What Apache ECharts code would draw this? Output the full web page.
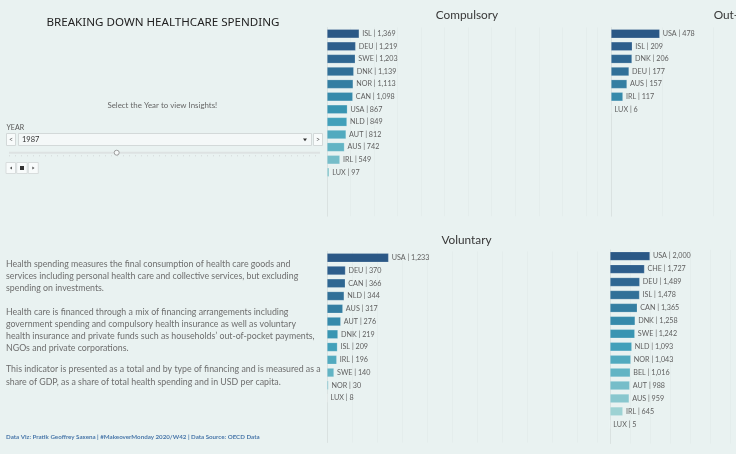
<!DOCTYPE html>
<html>
<head>
<meta charset="utf-8">
<script src="https://cdn.jsdelivr.net/npm/echarts@6/dist/echarts.min.js"></script>
<style>
html,body{margin:0;padding:0;background:#e9f2f1;}
#c{width:736px;height:454px;}
</style>
</head>
<body>
<div id="c"></div>
<script>
// ---- data ----
const compCats = ['ISL','DEU','SWE','DNK','NOR','CAN','USA','NLD','AUT','AUS','IRL','LUX'];
const compVals = [1369,1219,1203,1139,1113,1098,867,849,812,742,549,97];
const oopCats = ['USA','ISL','DNK','DEU','AUS','IRL','LUX'];
const oopVals = [478,209,206,177,157,117,6];
const volCats = ['USA','DEU','CAN','NLD','AUS','AUT','DNK','ISL','IRL','SWE','NOR','LUX'];
const volVals = [1233,370,366,344,317,276,219,209,196,140,30,8];
const totCats = ['USA','CHE','DEU','ISL','CAN','DNK','SWE','NLD','NOR','BEL','AUT','AUS','IRL','LUX'];
const totVals = [2000,1727,1489,1478,1365,1258,1242,1093,1043,1016,988,959,645,5];
const panelTitles = ['Compulsory','Out-of-Pocket','Voluntary'];
const selectedYear = '1987';

// ---- styles ----
const palette = ['#2b5886','#2d5e8c','#2f6792','#317098','#347ea2','#368aab','#3995b2',
                 '#42a0ba','#52aabf','#62b4c4','#76bdc9','#89c7ce','#9dd2d3','#aadad8'];
const FONT = 'Lato';
const chart = echarts.init(document.getElementById('c'));

// grid geometry: left, top, width, height, axis max, interval
const panels = [
  {cats: compCats, vals: compVals, left: 327, top: 27.4, width: 270, height: 189, max: 11475, interval: 1000},
  {cats: oopCats,  vals: oopVals,  left: 611, top: 27.4, width: 125, height: 189, max: 1225,  interval: 500},
  {cats: volCats,  vals: volVals,  left: 327, top: 251.4, width: 270, height: 191.3, max: 5400, interval: 500},
  {cats: totCats,  vals: totVals,  left: 610, top: 249.7, width: 126, height: 194, max: 6300, interval: 1000}
];

const grids = [], xAxes = [], yAxes = [], series = [];
panels.forEach((p, k) => {
  grids.push({left: p.left, top: p.top, width: p.width, height: p.height, containLabel: false});
  xAxes.push({
    type: 'value', gridIndex: k, min: 0, max: p.max, interval: p.interval,
    axisLabel: {show: false}, axisTick: {show: false}, axisLine: {show: false},
    splitLine: {show: true, lineStyle: {color: 'rgba(0,0,0,0.018)', width: 1}}
  });
  yAxes.push({
    type: 'category', gridIndex: k, data: p.cats, inverse: true, min: 0, max: 14,
    axisLabel: {show: false}, axisTick: {show: false},
    axisLine: {show: true, lineStyle: {color: 'rgba(0,0,0,0.045)', width: 1}},
    splitLine: {show: false}
  });
  series.push({
    type: 'bar', xAxisIndex: k, yAxisIndex: k, data: p.vals, barWidth: 9,
    itemStyle: {color: q => palette[q.dataIndex], borderColor: 'rgba(255,255,255,0.3)', borderWidth: 0.6},
    label: {
      show: true, position: 'right', distance: 3,
      formatter: q => q.name + ' | ' + Number(q.value).toLocaleString('en-US'),
      fontFamily: FONT, fontSize: 7.2, color: '#606060'
    },
    silent: true, animation: false
  });
});

const txt = (x, y, text, size, color, extra) => ({
  type: 'text', x: x, y: y, silent: true,
  style: Object.assign({text: text, fontFamily: FONT, fontSize: size, fill: color,
    textAlign: 'left', textVerticalAlign: 'middle'}, extra || {})
});

const graphics = [
  txt(163, 22.8, 'BREAKING DOWN HEALTHCARE SPENDING', 11.6, '#222', {textAlign: 'center', fontFamily: 'Noto Sans'}),
  txt(162.3, 105.3, 'Select the Year to view Insights!', 7.9, '#666', {textAlign: 'center'}),
  txt(6.5, 127.3, 'YEAR', 7, '#555'),
  // dropdown
  {type: 'rect', shape: {x: 18.5, y: 133.5, width: 293, height: 12}, style: {fill: '#f4f8f8', stroke: '#d3d9d9', lineWidth: 1}, silent: true},
  {type: 'rect', shape: {x: 6.5, y: 133.5, width: 9, height: 12}, style: {fill: '#f8fbfb', stroke: '#d3d9d9', lineWidth: 1}, silent: true},
  {type: 'rect', shape: {x: 313.5, y: 133.5, width: 9, height: 12}, style: {fill: '#f8fbfb', stroke: '#d3d9d9', lineWidth: 1}, silent: true},
  txt(11, 139.8, '<', 7, '#555', {textAlign: 'center'}),
  txt(318, 139.8, '>', 7, '#555', {textAlign: 'center'}),
  txt(22, 139.5, selectedYear, 7.5, '#333'),
  {type: 'polygon', shape: {points: [[303, 138.6], [307, 138.6], [305, 141.2]]}, style: {fill: '#333'}, silent: true},
  // slider
  {type: 'line', shape: {x1: 9, y1: 152.7, x2: 320, y2: 152.7}, style: {stroke: '#dde2e2', lineWidth: 2}, silent: true},
  {type: 'line', shape: {x1: 9, y1: 155.8, x2: 320, y2: 155.8}, style: {stroke: '#d2d8d8', lineWidth: 1, lineDash: [1, 5]}, silent: true},
  {type: 'circle', shape: {cx: 116.7, cy: 152.7, r: 2.5}, style: {fill: '#f6f9f9', stroke: '#888', lineWidth: 0.8}, silent: true},
  // play controls
  {type: 'rect', shape: {x: 6, y: 162.5, width: 9.5, height: 11}, style: {fill: '#f8fbfb', stroke: '#d8dddd', lineWidth: 1}, silent: true},
  {type: 'rect', shape: {x: 16.7, y: 162.5, width: 10.5, height: 11}, style: {fill: '#f8fbfb', stroke: '#d8dddd', lineWidth: 1}, silent: true},
  {type: 'rect', shape: {x: 28.3, y: 162.5, width: 10, height: 11}, style: {fill: '#f8fbfb', stroke: '#d8dddd', lineWidth: 1}, silent: true},
  {type: 'polygon', shape: {points: [[12, 166.5], [12, 169.5], [9.8, 168]]}, style: {fill: '#555'}, silent: true},
  {type: 'rect', shape: {x: 20, y: 166, width: 4, height: 4}, style: {fill: '#333'}, silent: true},
  {type: 'polygon', shape: {points: [[32.3, 166.5], [32.3, 169.5], [34.5, 168]]}, style: {fill: '#555'}, silent: true},
  // panel titles
  txt(467, 15.5, panelTitles[0], 11.8, '#383838', {textAlign: 'center'}),
  txt(751, 15.5, panelTitles[1], 11.8, '#383838', {textAlign: 'center'}),
  txt(466.5, 240, panelTitles[2], 11.8, '#383838', {textAlign: 'center'}),
  // description
  {type: 'text', x: 6, y: 258, silent: true, style: {
    text: 'Health spending measures the final consumption of health care goods and\nservices including personal health care and collective services, but excluding\nspending on investments.',
    fontFamily: FONT, fontSize: 8.8, fill: '#6e6e6e', lineHeight: 11.9, textVerticalAlign: 'top'}},
  {type: 'text', x: 6, y: 305.7, silent: true, style: {
    text: 'Health care is financed through a mix of financing arrangements including\ngovernment spending and compulsory health insurance as well as voluntary\nhealth insurance and private funds such as households\u2019 out-of-pocket payments,\nNGOs and private corporations.',
    fontFamily: FONT, fontSize: 8.8, fill: '#6e6e6e', lineHeight: 12, textVerticalAlign: 'top'}},
  {type: 'text', x: 6, y: 363.3, silent: true, style: {
    text: 'This indicator is presented as a total and by type of financing and is measured as a\nshare of GDP, as a share of total health spending and in USD per capita.',
    fontFamily: FONT, fontSize: 8.8, fill: '#6e6e6e', lineHeight: 12.4, textVerticalAlign: 'top'}},
  txt(6, 436.7, 'Data Viz: Pratik Geoffrey Saxena | #MakeoverMonday 2020/W42 | Data Source: OECD Data', 6.2, '#4a78aa', {fontWeight: 'bold'})
];

chart.setOption({
  backgroundColor: '#e9f2f1',
  animation: false,
  grid: grids, xAxis: xAxes, yAxis: yAxes, series: series,
  graphic: graphics
});
</script>
</body>
</html>
